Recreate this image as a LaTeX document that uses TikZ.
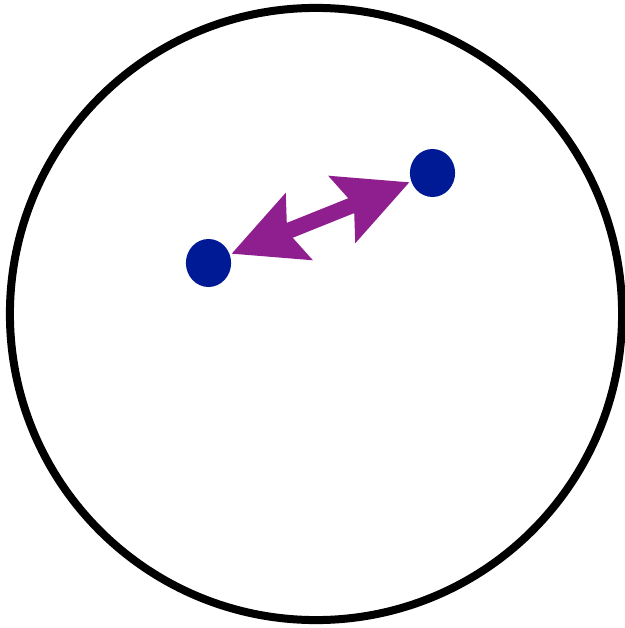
\documentclass[tikz,border=0pt]{standalone}
\usepackage{tikz}
\usetikzlibrary{arrows.meta,shapes.geometric}

\definecolor{dotblue}{RGB}{0,26,150}
\definecolor{linkpurple}{RGB}{143,31,143}

\begin{document}
\begin{tikzpicture}[x=0.025cm,y=-0.025cm,
  >={Stealth[length=1.82cm,width=1.82cm,inset=0.33cm,line width=0pt]},
  particle/.style={ellipse,fill=dotblue,minimum width=1.13cm,minimum height=1.2cm,inner sep=0pt}]
\useasboundingbox (0,0) rectangle (624,628);
\node[draw=black,line width=0.2cm,circle,minimum size=15.3cm,inner sep=0pt] (cell) at (316,314) {};
\node[particle] (p1) at (208.5,263) {};
\node[particle] (p2) at (432.5,173) {};
\draw[<->,line width=0.4cm,linkpurple,shorten <=0.05cm,shorten >=0.05cm] (p1)--(p2);
\end{tikzpicture}
\end{document}
